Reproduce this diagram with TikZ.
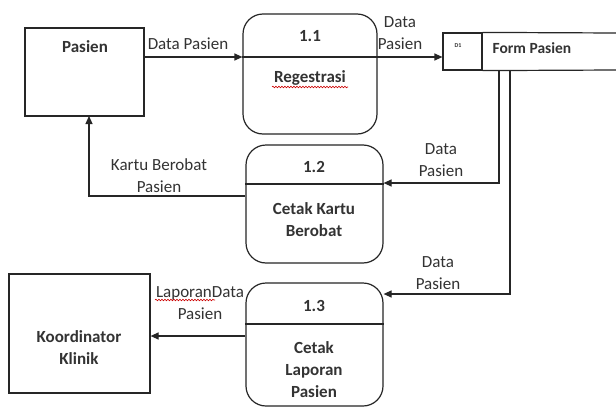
\documentclass[tikz,border=0pt]{standalone}
\usepackage{fontspec}
\setmainfont{Carlito}
\usetikzlibrary{arrows.meta,decorations.pathmorphing}
\begin{document}
\begin{tikzpicture}[x=1pt,y=-1pt,
  font=\fontsize{17}{22}\selectfont,
  line/.style={draw=black!85, line width=1.2pt},
  flow/.style={line, -{Triangle[length=8pt,width=7pt]}},
  ent/.style={draw=black!85, line width=1.2pt, rectangle, inner sep=0pt},
  proc/.style={draw=black!85, line width=1.2pt, rectangle, rounded corners=20pt, inner sep=0pt},
  lbl/.style={inner sep=0pt, align=center, text=black!80},
  ttl/.style={lbl, font=\fontsize{17}{22}\selectfont\bfseries},
  squig/.style={draw=red!80!black, line width=0.6pt, decorate, decoration={snake, amplitude=0.8pt, segment length=3pt}}]
\useasboundingbox[fill=white] (0,0) rectangle (616,407);

% boxes
\node[ent, minimum width=119pt, minimum height=88pt] (pasien) at (84.5,72) {};
\node[ent, minimum width=141pt, minimum height=119pt] (koord) at (79.5,333.5) {};
\node[proc, minimum width=134pt, minimum height=120pt] (p11) at (310,74) {};
\node[proc, minimum width=137pt, minimum height=118pt] (p12) at (314.5,204) {};
\node[proc, minimum width=137pt, minimum height=123pt] (p13) at (314.5,344.5) {};
\node[ent, minimum width=39pt, minimum height=37pt] (d1) at (462.5,51.5) {};

% helper coordinates
\coordinate (y57) at (0,57);
\coordinate (y184) at (0,184);
\coordinate (y324) at (0,324);
\coordinate (y183) at (0,183);
\coordinate (y294) at (0,294);
\coordinate (y196) at (0,196);
\coordinate (y336) at (0,336);
\coordinate (se1) at (616,33);
\coordinate (se2) at (616,70);
\coordinate (s1) at (499,70);
\coordinate (s2) at (510,70);
\coordinate (k) at (89,116);

% dividers and store lines
\draw[line] (p11.west |- y57) -- (p11.east |- y57);
\draw[line] (p12.west |- y184) -- (p12.east |- y184);
\draw[line] (p13.west |- y324) -- (p13.east |- y324);
\draw[line] (d1.north east) -- (se1);
\draw[line] (d1.south east) -- (se2);

% flows
\draw[flow] (pasien.east |- y57) -- (p11.west |- y57);
\draw[flow] (p11.east |- y57) -- (d1.west |- y57);
\draw[flow] (s1) |- (p12.east |- y183);
\draw[flow] (s2) |- (p13.east |- y294);
\draw[flow] (p12.west |- y196) -| (k);
\draw[flow] (p13.west |- y336) -- (koord.east |- y336);

% texts in boxes
\node[ttl] (tpasien) at (85,47) {Pasien};
\node[ttl] (tkoord) at (79,348) {Koordinator\\Klinik};
\node[ttl] (t11) at (310,36) {1.1};
\node[ttl] (t11b) at (310,78) {Regestrasi};
\node[ttl] (t12) at (314,167) {1.2};
\node[ttl] (t12b) at (314,220) {Cetak Kartu\\Berobat};
\node[ttl] (t13) at (314,306) {1.3};
\node[ttl] (t13b) at (314,370) {Cetak\\Laporan\\Pasien};
\node[lbl, font=\fontsize{6}{7}\selectfont\bfseries] (td1) at (458,46) {D1};
\node[ttl, font=\fontsize{15.5}{20}\selectfont\bfseries] (tform) at (532,48) {Form Pasien};

% flow labels
\node[lbl] (l1) at (188,44) {Data Pasien};
\node[lbl] (l2) at (400,33) {Data\\Pasien};
\node[lbl] (l3) at (441,160) {Data\\Pasien};
\node[lbl] (l4) at (159,176) {Kartu Berobat\\Pasien};
\node[lbl] (l5) at (438,273) {Data\\Pasien};
\node[lbl] (l6) at (200,303) {LaporanData\\Pasien};

% spell-check squiggles
\coordinate (q1a) at (272,87);
\coordinate (q1b) at (348,87);
\coordinate (q2a) at (155,300);
\coordinate (q2b) at (215,300);
\draw[squig] (q1a) -- (q1b);
\draw[squig] (q2a) -- (q2b);
\end{tikzpicture}
\end{document}
